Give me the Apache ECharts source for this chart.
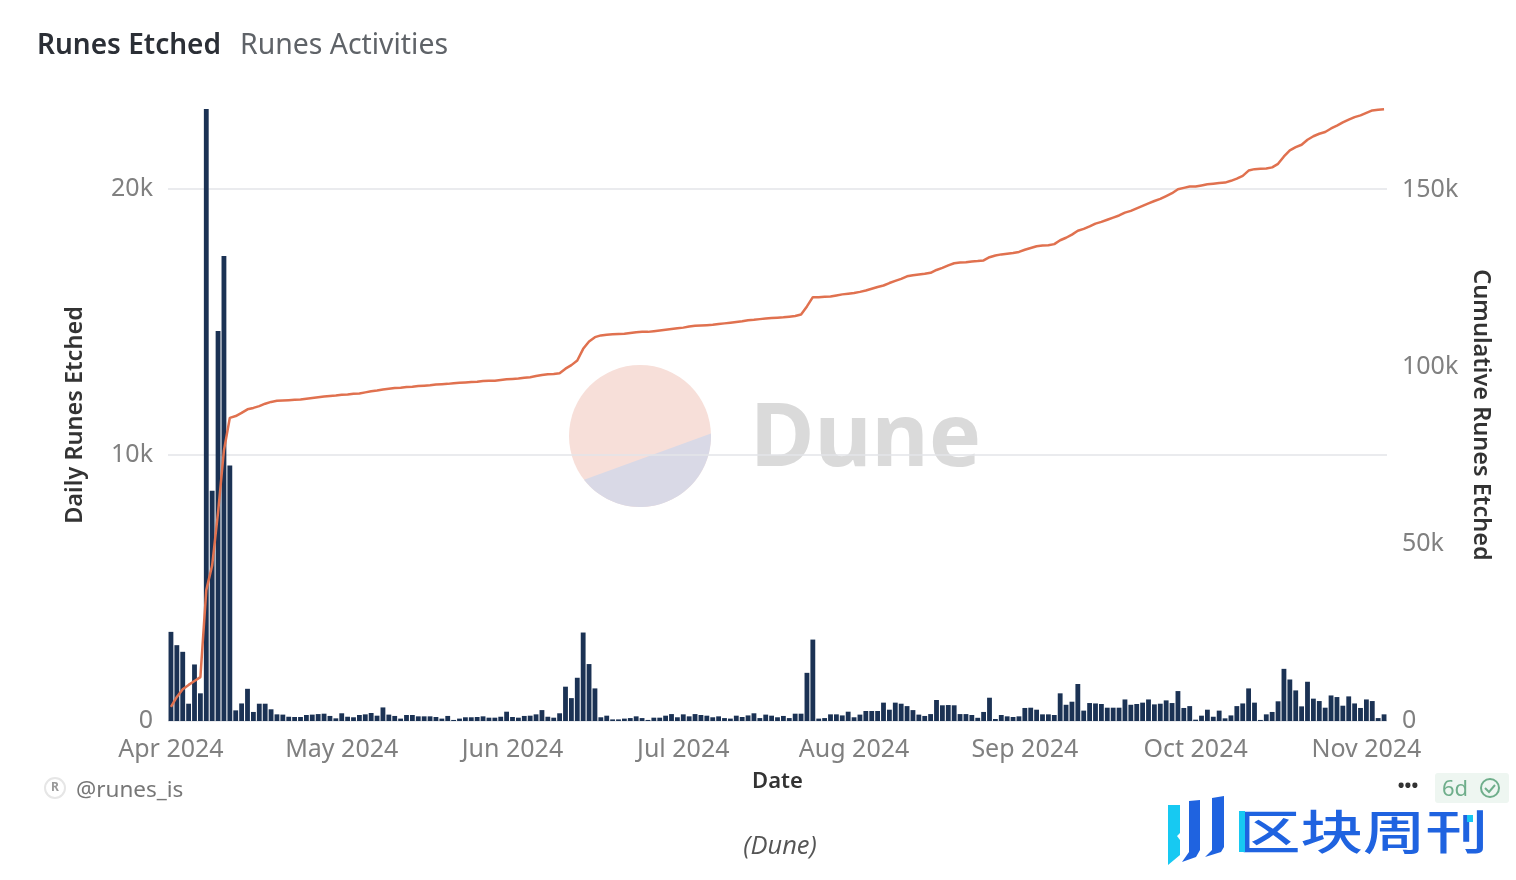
<!DOCTYPE html>
<html>
<head>
<meta charset="utf-8">
<title>Runes Etched</title>
<script src="https://cdn.jsdelivr.net/npm/echarts@6/dist/echarts.min.js"></script>
<style>
  html, body { margin: 0; padding: 0; background: #fff; }
  #chart { width: 1516px; height: 880px; }
</style>
</head>
<body>
<div id="chart"></div>
<script>
// one value per day starting 2024-04-20
const dailyRunes = [
  3350,2850,2600,650,2125,1040,23000,8650,14660,17480,
  9600,400,660,1210,340,650,650,440,250,240,
  160,150,150,225,240,260,275,190,100,290,
  160,140,225,250,300,200,510,240,190,90,
  225,225,175,175,175,150,90,190,40,90,
  140,140,150,175,125,125,160,350,150,125,
  190,200,250,410,160,125,290,1290,860,1625,
  3325,2140,1225,140,200,60,60,90,110,175,
  110,40,125,125,200,260,140,250,175,260,
  225,200,140,175,110,90,200,150,210,290,
  110,240,200,140,190,110,275,275,1810,3060,
  90,110,250,250,210,350,140,240,375,375,
  375,690,425,690,650,560,410,240,190,260,
  790,590,600,590,260,260,225,120,340,875,
  75,225,175,150,175,490,500,425,250,250,
  225,1040,610,725,1390,390,675,660,640,500,
  500,500,810,610,640,690,810,625,650,775,
  675,1125,490,560,50,200,425,160,390,100,
  210,560,660,1225,690,40,250,340,740,1960,
  1560,1150,550,1475,840,750,500,960,900,575,
  925,660,490,810,750,110,250
]
const cumulativeRunes = [
  4000,6800,9000,10200,11300,12400,37000,44000,59000,76500,
  85700,86200,87100,88100,88500,89000,89700,90200,90500,90600,
  90700,90800,90900,91100,91300,91500,91700,91900,92000,92200,
  92300,92500,92600,92900,93200,93400,93700,93900,94100,94200,
  94400,94500,94700,94800,94900,95100,95200,95300,95500,95600,
  95700,95800,95900,96100,96200,96200,96400,96600,96700,96800,
  97000,97200,97500,97800,98000,98100,98300,99600,100600,101900,
  105200,107300,108500,109000,109200,109300,109400,109500,109700,109900,
  110000,110000,110200,110400,110600,110800,111000,111200,111500,111700,
  111800,111900,112000,112200,112400,112600,112800,113000,113300,113400,
  113600,113800,113900,114000,114100,114300,114500,114900,117200,119800,
  119800,119900,120000,120300,120600,120800,121000,121300,121700,122200,
  122700,123100,123800,124400,125000,125700,126000,126200,126400,126700,
  127500,128100,128800,129400,129600,129700,129900,130000,130200,131100,
  131600,131900,132100,132300,132600,133200,133700,134200,134400,134500,
  134800,135900,136600,137500,138600,139100,139800,140600,141100,141700,
  142300,142900,143700,144200,144900,145600,146300,147000,147600,148400,
  149200,150300,150700,151100,151100,151400,151700,151900,152100,152200,
  152700,153300,154100,155600,156000,156100,156200,156500,157500,159600,
  161300,162200,162900,164300,165300,166000,166500,167500,168300,169200,
  170000,170700,171200,171900,172600,172800,172900
]
const monthLabels = ['Apr 2024', 'May 2024', 'Jun 2024', 'Jul 2024', 'Aug 2024', 'Sep 2024', 'Oct 2024', 'Nov 2024']
const labelStep = 29 // the x axis labels one day in 29

const firstDay = Date.UTC(2024, 3, 20)
const categories = dailyRunes.map((_, i) => new Date(firstDay + i * 864e5).toISOString().slice(0, 10))

const uiFont = '"Noto Sans", sans-serif'
const formatK = v => (v === 0 ? '0' : v / 1000 + 'k')

// lower part of the round watermark, the graphic component has no path element
const watermarkLower = []
for (let deg = -2; deg <= 143; deg += 3) {
  const a = deg * Math.PI / 180
  watermarkLower.push([640 + 71 * Math.cos(a), 436 + 71 * Math.sin(a)])
}

const chart = echarts.init(document.getElementById('chart'))
chart.setOption({
  backgroundColor: '#fff',
  animation: false,
  textStyle: { fontFamily: uiFont },
  title: [
    { text: 'Runes Etched', left: 32, top: 27, textStyle: { fontFamily: uiFont, fontSize: 28, fontWeight: 600, color: '#2b2f36' } },
    { text: 'Runes Activities', left: 235, top: 27, textStyle: { fontFamily: uiFont, fontSize: 28.4, fontWeight: 400, color: '#5f6368' } }
  ],
  grid: { left: 168, right: 129, top: 109, bottom: 159 },
  xAxis: {
    type: 'category',
    data: categories,
    name: 'Date',
    nameLocation: 'middle',
    nameGap: 50,
    nameTextStyle: { fontFamily: uiFont, fontSize: 22, fontWeight: 600, color: '#333' },
    axisLine: { show: false },
    axisTick: { show: false },
    axisLabel: {
      interval: labelStep - 1,
      margin: 16,
      fontSize: 25,
      color: '#808080',
      hideOverlap: false,
      formatter: (value, index) => monthLabels[index / labelStep]
    }
  },
  yAxis: [
    {
      type: 'value',
      min: 0,
      max: 23000,
      interval: 10000,
      name: 'Daily Runes Etched',
      nameLocation: 'middle',
      nameGap: 81,
      nameTextStyle: { fontFamily: uiFont, fontSize: 23.5, fontWeight: 600, color: '#333' },
      axisLine: { show: false },
      axisTick: { show: false },
      splitLine: { showMaxLine: false, lineStyle: { color: '#e3e5e8', width: 1.5 } },
      axisLabel: {
        margin: 15,
        fontSize: 25,
        color: '#808080',
        padding: [0, 0, 6, 0],
        showMaxLabel: false,
        formatter: formatK
      }
    },
    {
      type: 'value',
      position: 'right',
      min: 0,
      max: 173000,
      interval: 50000,
      name: 'Cumulative Runes Etched',
      nameLocation: 'middle',
      nameRotate: -90,
      nameGap: 81,
      nameTextStyle: { fontFamily: uiFont, fontSize: 23.5, fontWeight: 600, color: '#333' },
      axisLine: { show: false },
      axisTick: { show: false },
      splitLine: { show: false },
      axisLabel: {
        margin: 15,
        fontSize: 25,
        color: '#808080',
        padding: [0, 0, 2, 0],
        showMaxLabel: false,
        formatter: formatK
      }
    }
  ],
  series: [
    {
      name: 'Daily Runes Etched',
      type: 'bar',
      yAxisIndex: 0,
      data: dailyRunes,
      barWidth: '82%',
      itemStyle: { color: '#1b3254' }
    },
    {
      name: 'Cumulative Runes Etched',
      type: 'line',
      yAxisIndex: 1,
      data: cumulativeRunes,
      showSymbol: false,
      lineStyle: { color: '#e0714f', width: 2.5 }
    }
  ],
  graphic: [
    // Dune watermark
    { type: 'circle', z: -2, silent: true, shape: { cx: 640, cy: 436, r: 71 }, style: { fill: '#f7dfd9' } },
    { type: 'polygon', z: -1, silent: true, shape: { points: watermarkLower }, style: { fill: '#d9d9e6' } },
    { type: 'text', z: -1, silent: true, x: 750, y: 441, style: { text: 'Dune', font: '700 88px ' + uiFont, fill: '#dadada', textVerticalAlign: 'middle' } },
    // footer left
    { type: 'circle', shape: { cx: 55, cy: 788, r: 10 }, style: { fill: '#fff', stroke: '#e6e6e6', lineWidth: 2 } },
    { type: 'text', x: 55, y: 788, style: { text: 'R', font: '700 12px ' + uiFont, fill: '#999', textAlign: 'center', textVerticalAlign: 'middle' } },
    { type: 'text', x: 76, y: 791, style: { text: '@runes_is', font: '400 22.5px ' + uiFont, fill: '#777', textVerticalAlign: 'middle' } },
    // footer right
    { type: 'text', x: 1408, y: 787, style: { text: '•••', font: '700 18px ' + uiFont, fill: '#333', textAlign: 'center', textVerticalAlign: 'middle' } },
    { type: 'rect', shape: { x: 1435, y: 773, width: 74, height: 30, r: 3 }, style: { fill: '#eef6f1' } },
    { type: 'text', x: 1442, y: 790, style: { text: '6d', font: '400 22px ' + uiFont, fill: '#6fae8b', textVerticalAlign: 'middle' } },
    { type: 'circle', shape: { cx: 1490, cy: 788, r: 9 }, style: { fill: 'none', stroke: '#6fae8b', lineWidth: 2 } },
    { type: 'polyline', shape: { points: [[1485, 788], [1489, 792], [1495, 785]] }, style: { fill: 'none', stroke: '#6fae8b', lineWidth: 2 } },
    // caption
    { type: 'text', x: 780, y: 847, style: { text: '(Dune)', font: 'italic 400 25.5px "Open Sans", sans-serif', fill: '#555', textAlign: 'center', textVerticalAlign: 'middle' } },
    // 区块周刊 logo
    { type: 'polygon', shape: { points: [[1168, 805], [1180, 805], [1180, 833], [1177, 836], [1180, 840], [1180, 855], [1168, 865]] }, style: { fill: '#17c9f2' } },
    { type: 'polygon', shape: { points: [[1189, 801], [1200, 800], [1200, 850], [1196, 857], [1182, 862], [1189, 852]] }, style: { fill: '#1f63e0' } },
    { type: 'polygon', shape: { points: [[1212, 798], [1224, 796], [1224, 847], [1221, 852], [1205, 857], [1212, 850]] }, style: { fill: '#1f63e0' } },
    { type: 'text', x: 1238, y: 831, scaleX: 1.33, originX: 0, originY: 0, style: { text: '区块周刊', font: '500 47px "Noto Sans CJK SC", sans-serif', fill: '#1f63e0', textVerticalAlign: 'middle' } },
    { type: 'rect', shape: { x: 1239, y: 811, width: 6, height: 41 }, style: { fill: '#17c9f2' } },
    { type: 'rect', shape: { x: 1467, y: 815, width: 6, height: 7 }, style: { fill: '#17c9f2' } }
  ]
})
</script>
</body>
</html>
